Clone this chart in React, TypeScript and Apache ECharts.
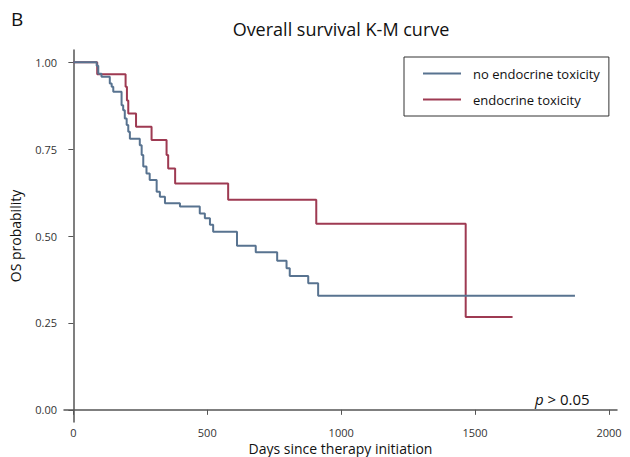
import React, { useEffect, useRef } from "react";
import * as echarts from "echarts";

// Days at which a step happens, and the survival probability after the step
const blueDays = [0, 87, 93, 105, 136, 143, 149, 180, 186, 192, 199, 205, 211, 248, 255, 261, 273, 285, 311, 323, 342, 398, 472, 491, 510, 522, 611, 681, 761, 796, 808, 877, 914, 1873];
const blueSurv = [1.0, 0.99, 0.967, 0.958, 0.939, 0.929, 0.915, 0.876, 0.862, 0.838, 0.819, 0.8, 0.78, 0.761, 0.733, 0.7, 0.68, 0.661, 0.627, 0.613, 0.594, 0.585, 0.565, 0.551, 0.532, 0.512, 0.472, 0.453, 0.429, 0.407, 0.385, 0.364, 0.328, 0.328];

const redDays = [0, 89, 195, 200, 205, 234, 292, 348, 354, 380, 578, 907, 1465, 1640];
const redSurv = [1.0, 0.965, 0.929, 0.89, 0.852, 0.814, 0.776, 0.733, 0.694, 0.651, 0.604, 0.535, 0.267, 0.267];

const xTicks = [0, 500, 1000, 1500, 2000];
const yTicks = [0, 0.25, 0.5, 0.75, 1.0];

const seriesNames = ["no endocrine toxicity", "endocrine toxicity"];
const BLUE = "#587390";
const RED = "#9e3a52";
const FONT = "Open Sans";

export default function App() {
  const ref = useRef<HTMLDivElement>(null);
  useEffect(() => {
    if (!ref.current) return;
    const chart = echarts.init(ref.current, null, { renderer: "svg" });
    const pair = (d: number[], s: number[]) => d.map((x, i) => [x, s[i]]);
    chart.setOption({
      animation: false,
      backgroundColor: "#fff",
      textStyle: { fontFamily: FONT },
      title: {
        text: "Overall survival K-M curve",
        left: 336,
        top: 15,
        textAlign: "center",
        textStyle: { fontSize: 18, fontWeight: "normal", color: "#111", fontFamily: FONT },
      },
      grid: { left: 64, right: 13, top: 50, bottom: 35, outerBoundsMode: "none" },
      legend: {
        orient: "vertical",
        left: 404,
        top: 57,
        data: seriesNames,
        icon: "rect",
        itemWidth: 38,
        itemHeight: 2,
        itemGap: 13,
        padding: [10, 9, 10, 19],
        borderColor: "#333",
        borderWidth: 1,
        textStyle: { fontSize: 13, color: "#111", fontFamily: FONT, padding: [0, 0, 0, 7] },
      },
      xAxis: {
        type: "value",
        min: -35,
        max: 2030,
        name: "Days since therapy initiation",
        nameLocation: "middle",
        nameGap: 19,
        nameMoveOverlap: false,
        nameTextStyle: { fontSize: 14, color: "#111", fontFamily: FONT, lineHeight: 14 },
        axisLine: { show: true, lineStyle: { color: "#555", width: 1.5 } },
        axisTick: { show: true, length: 5, customValues: xTicks, lineStyle: { color: "#555" } },
        axisLabel: {
          customValues: xTicks,
          fontSize: 11,
          lineHeight: 12,
          color: "#333",
          margin: 4,
          formatter: (v: number) => String(v),
        },
        splitLine: { show: false },
      },
      yAxis: {
        type: "value",
        min: -0.035,
        max: 1.035,
        name: "OS probability",
        nameLocation: "middle",
        nameGap: 42,
        nameMoveOverlap: false,
        nameTextStyle: { fontSize: 14, color: "#111", fontFamily: FONT },
        axisLine: { show: true, lineStyle: { color: "#555", width: 1.5 } },
        axisTick: { show: true, length: 5, customValues: yTicks, lineStyle: { color: "#555" } },
        axisLabel: {
          customValues: yTicks,
          fontSize: 11,
          color: "#333",
          margin: 7,
          formatter: (v: number) => v.toFixed(2),
        },
        splitLine: { show: false },
      },
      series: [
        {
          name: seriesNames[0],
          type: "line",
          step: "end",
          data: pair(blueDays, blueSurv),
          showSymbol: false,
          symbol: "none",
          lineStyle: { color: BLUE, width: 2 },
          itemStyle: { color: BLUE },
          z: 3,
        },
        {
          name: seriesNames[1],
          type: "line",
          step: "end",
          data: pair(redDays, redSurv),
          showSymbol: false,
          symbol: "none",
          lineStyle: { color: RED, width: 2 },
          itemStyle: { color: RED },
          z: 2,
        },
      ],
      graphic: [
        {
          type: "text",
          left: 11,
          top: 9,
          style: { text: "B", fontSize: 19, fill: "#111", fontFamily: FONT },
        },
        {
          type: "text",
          left: 535,
          top: 391,
          style: {
            rich: {
              i: { fontStyle: "italic", fontSize: 15, fontFamily: FONT, fill: "#111" },
              n: { fontSize: 15, fontFamily: FONT, fill: "#111" },
            },
            text: "{i|p}{n| > 0.05}",
          },
        },
      ],
    });
    return () => chart.dispose();
  }, []);
  return (
    <div
      ref={ref}
      style={{ position: "fixed", left: 0, top: 0, width: 630, height: 457 }}
    />
  );
}
